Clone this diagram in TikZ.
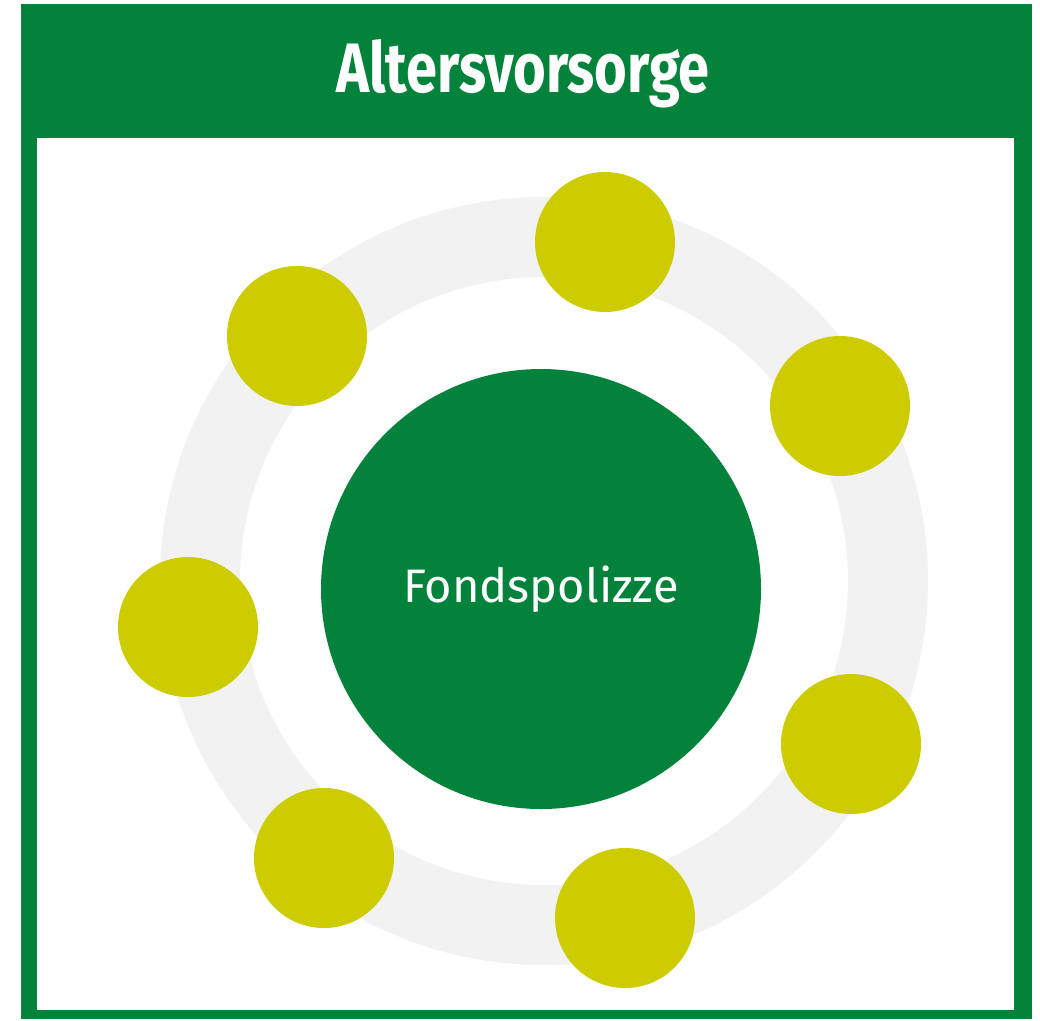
\documentclass[tikz,border=0pt]{standalone}
\usepackage{fontspec}
\setmainfont{Fira Sans}
\newfontfamily\titlefont[FakeStretch=0.8]{Fira Sans}
\definecolor{brandgreen}{RGB}{2,130,58}
\definecolor{ringgray}{RGB}{242,242,242}
\definecolor{dotyellow}{RGB}{204,204,0}
\begin{document}
\begin{tikzpicture}[x=1pt,y=-1pt,
  dot/.style={circle,fill=dotyellow,minimum size=140pt,inner sep=0pt},
  hub/.style={circle,fill=brandgreen,minimum size=440pt,inner sep=0pt,text=white,font=\fontsize{47}{50}\selectfont}]
\useasboundingbox (0,0) rectangle (1040,1020);
\fill[brandgreen] (21,4) rectangle (1032,1019);
\fill[white] (37,138) rectangle (1014,1010);
\node[text=white,font=\titlefont\bfseries\fontsize{70}{74}\selectfont] (title) at (523,74) {Altersvorsorge};
\draw[ringgray,line width=80pt] (544,581) circle[radius=344];
\node[hub] (hub) at (541,589) {Fondspolizze};
\node[dot] (d1) at (605,242) {};
\node[dot] (d2) at (297,336) {};
\node[dot] (d3) at (840,406) {};
\node[dot] (d4) at (188,627) {};
\node[dot] (d5) at (851,744) {};
\node[dot] (d6) at (324,858) {};
\node[dot] (d7) at (625,918) {};
\end{tikzpicture}
\end{document}
